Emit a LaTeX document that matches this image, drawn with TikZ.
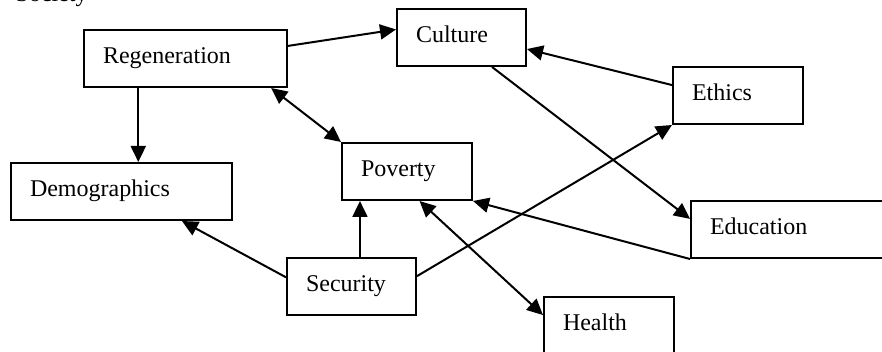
\documentclass[tikz,border=0pt]{standalone}
\usepackage{fontspec}
\setmainfont{Liberation Serif}
\usetikzlibrary{arrows.meta}

\begin{document}
\begin{tikzpicture}[x=0.5pt, y=-0.5pt, line width=1pt, >={Triangle[length=8pt, width=7.5pt]},
        factor/.style={draw, anchor=north west, minimum height=28.5pt, inner xsep=9.5pt,
            text width=#1, align=left, text height=0.68em, text depth=0.22em,
            font=\fontsize{12}{14}\selectfont}]
        \useasboundingbox (0,0) rectangle (882,352);

        \node[anchor=base west, font=\fontsize{12}{14}\selectfont] (soc) at (8,1.5) {Society};

        \node[factor=82.5pt] (reg) at (83,29) {Regeneration};
        \node[factor=45.5pt] (cult) at (396,8) {Culture};
        \node[factor=46pt] (eth) at (672,66) {Ethics};
        \node[factor=46pt] (pov) at (341,142) {Poverty};
        \node[factor=91.5pt] (dem) at (10,162) {Demographics};
        \node[factor=45.5pt] (sec) at (286,257) {Security};
        \node[factor=81pt] (edu) at (690,200) {Education};
        \node[factor=46pt] (hea) at (543,296) {Health};

        \draw [->] (reg.7) -- (cult.173);
        \draw [->] (eth.171) -- (cult.-10);
        \draw [->] (cult.-44) -- (edu.174);
        \draw [->] (reg.212) -- (reg.212 |- dem.north);
        \draw [<->] (reg.-19) -- (pov.north west);
        \draw [->] (sec.172) -- (dem.-26);
        \draw [->] (sec.74) -- (sec.74 |- pov.south);
        \draw [->] (sec.9) -- (eth.south west);
        \draw [->] (edu.south west) -- (pov.south east);
        \draw [<->] (pov.-67) -- (hea.171);
    \end{tikzpicture}
\end{document}
